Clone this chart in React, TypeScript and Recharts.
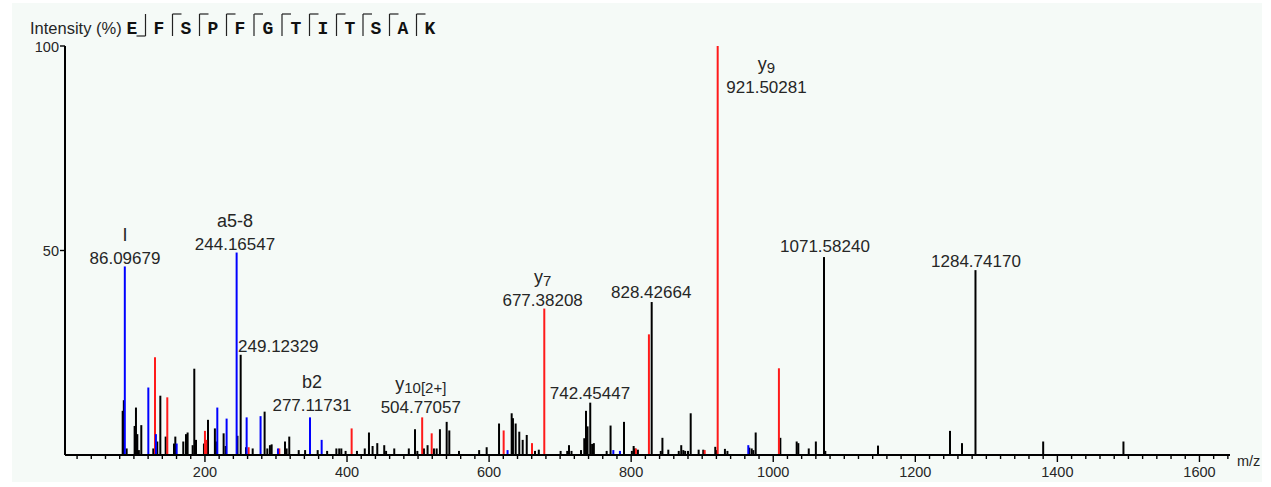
import React from 'react';
import { ComposedChart, XAxis, YAxis, ReferenceLine, Scatter } from 'recharts';

// ---------- data ----------
const xMajorTicks = [200, 400, 600, 800, 1000, 1200, 1400, 1600];
const xMinorStep = 20;
const yTicks = [50, 100];
const sequence = ['E', 'F', 'S', 'P', 'F', 'G', 'T', 'I', 'T', 'S', 'A', 'K'];
// fragment marks between residues: 'b' = bottom hook to the left, 'y' = top hook to the right
const cleavageMarks = ['b', 'y', 'y', 'y', 'y', 'y', 'y', 'y', 'y', 'y', 'y'];

const bluePeaks = [
  { mz: 87.2, int: 46.1 }, { mz: 120.3, int: 16.5 }, { mz: 131, int: 5.1 }, { mz: 160.2, int: 2.8 },
  { mz: 217.4, int: 11.6 }, { mz: 230.5, int: 8.9 }, { mz: 244.6, int: 49.5 }, { mz: 258.7, int: 9.2 },
  { mz: 278.3, int: 9.5 }, { mz: 302.8, int: 1.6 }, { mz: 347.9, int: 9.2 }, { mz: 364.3, int: 3.7 },
  { mz: 626, int: 1.2 }, { mz: 774.9, int: 1.2 }, { mz: 784.2, int: 1.0 }, { mz: 964.9, int: 2.4 },
];

const redPeaks = [
  { mz: 129.7, int: 23.9 }, { mz: 147, int: 14.1 }, { mz: 200, int: 5.9 }, { mz: 201.9, int: 3.7 },
  { mz: 261.5, int: 1.9 }, { mz: 304.7, int: 1.6 }, { mz: 406.5, int: 6.5 }, { mz: 505.8, int: 9.2 },
  { mz: 519.2, int: 5.3 }, { mz: 620.5, int: 6.0 }, { mz: 660.4, int: 2.9 }, { mz: 677.7, int: 35.8 },
  { mz: 806.7, int: 1.6 }, { mz: 825, int: 29.5 }, { mz: 903.5, int: 1.2 }, { mz: 921.8, int: 100 },
  { mz: 1008, int: 21.2 },
];

const blackPeaks = [
  { mz: 84.2, int: 10.8 }, { mz: 85.8, int: 13.4 }, { mz: 89.8, int: 1.6 }, { mz: 101, int: 7.1 },
  { mz: 102.9, int: 11.6 }, { mz: 104.8, int: 5.1 }, { mz: 107, int: 1.2 }, { mz: 110.4, int: 7.3 },
  { mz: 127.3, int: 1.6 }, { mz: 132.9, int: 3.3 }, { mz: 137.2, int: 14.5 }, { mz: 144.7, int: 4.5 },
  { mz: 156.4, int: 2.8 }, { mz: 158.3, int: 4.5 }, { mz: 169.5, int: 3.3 }, { mz: 173.3, int: 5.1 },
  { mz: 175.6, int: 5.5 }, { mz: 182.7, int: 2.4 }, { mz: 185, int: 21.1 }, { mz: 187.4, int: 3.7 },
  { mz: 198.6, int: 2.8 }, { mz: 204.3, int: 8.6 }, { mz: 214, int: 6.5 }, { mz: 216, int: 3.3 },
  { mz: 226.3, int: 5.3 }, { mz: 229.2, int: 2.2 }, { mz: 245.8, int: 4.7 }, { mz: 250.3, int: 24.5 },
  { mz: 257.8, int: 1.9 }, { mz: 267.2, int: 1.6 }, { mz: 284, int: 10.6 }, { mz: 287.8, int: 1.6 },
  { mz: 291.5, int: 2.4 }, { mz: 293.9, int: 2.6 }, { mz: 312.7, int: 3.3 }, { mz: 315, int: 1.6 },
  { mz: 318.7, int: 4.5 }, { mz: 332, int: 1.2 }, { mz: 341, int: 1.2 }, { mz: 358.7, int: 1.2 },
  { mz: 372, int: 1.0 }, { mz: 385, int: 1.6 }, { mz: 389, int: 1.6 }, { mz: 392, int: 1.6 },
  { mz: 398, int: 1.0 }, { mz: 414, int: 1.0 }, { mz: 425, int: 1.6 }, { mz: 430.9, int: 5.5 },
  { mz: 436, int: 2.2 }, { mz: 442.6, int: 2.9 }, { mz: 452.4, int: 2.4 }, { mz: 455, int: 1.0 },
  { mz: 466.5, int: 1.6 }, { mz: 487, int: 1.6 }, { mz: 495.7, int: 6.3 }, { mz: 499, int: 1.0 },
  { mz: 508.3, int: 1.6 }, { mz: 513.4, int: 2.4 }, { mz: 522.4, int: 1.6 }, { mz: 526.2, int: 1.6 },
  { mz: 530.8, int: 6.3 }, { mz: 540.3, int: 8.1 }, { mz: 544, int: 6.0 }, { mz: 557.6, int: 1.0 },
  { mz: 586, int: 1.2 }, { mz: 596.6, int: 1.9 }, { mz: 614, int: 7.7 }, { mz: 631.8, int: 10.2 },
  { mz: 633.6, int: 9.0 }, { mz: 637.4, int: 7.7 }, { mz: 642.5, int: 5.7 }, { mz: 647.3, int: 3.7 },
  { mz: 653, int: 4.9 }, { mz: 664.6, int: 1.0 }, { mz: 670, int: 1.3 }, { mz: 700.7, int: 1.0 },
  { mz: 710, int: 1.0 }, { mz: 712.5, int: 2.4 }, { mz: 716, int: 1.0 }, { mz: 729.4, int: 1.2 },
  { mz: 734, int: 4.1 }, { mz: 736.4, int: 10.8 }, { mz: 738.6, int: 7.0 }, { mz: 742.4, int: 12.8 },
  { mz: 745, int: 2.7 }, { mz: 747.5, int: 2.9 }, { mz: 765.5, int: 1.0 }, { mz: 771, int: 7.2 },
  { mz: 789.9, int: 8.1 }, { mz: 801, int: 1.0 }, { mz: 803.5, int: 2.2 }, { mz: 805, int: 1.6 },
  { mz: 809.5, int: 1.3 }, { mz: 828.9, int: 37.4 }, { mz: 841.7, int: 1.0 }, { mz: 844, int: 4.2 },
  { mz: 852.3, int: 1.3 }, { mz: 867, int: 1.0 }, { mz: 870.5, int: 2.4 }, { mz: 873.4, int: 1.2 },
  { mz: 876, int: 1.0 }, { mz: 880, int: 1.0 }, { mz: 883.8, int: 10.2 }, { mz: 895, int: 1.3 },
  { mz: 901.5, int: 1.3 }, { mz: 918.4, int: 2.0 }, { mz: 920.4, int: 1.2 }, { mz: 932, int: 1.5 },
  { mz: 935.5, int: 1.0 }, { mz: 966.3, int: 1.8 }, { mz: 969.7, int: 1.6 }, { mz: 972, int: 1.2 },
  { mz: 975.3, int: 5.5 }, { mz: 1010, int: 4.2 }, { mz: 1033, int: 3.3 }, { mz: 1035.3, int: 2.9 },
  { mz: 1050, int: 1.6 }, { mz: 1060, int: 3.3 }, { mz: 1071.5, int: 48.4 }, { mz: 1073.3, int: 1.0 },
  { mz: 1147.5, int: 2.3 }, { mz: 1248.8, int: 5.9 }, { mz: 1265.7, int: 2.9 }, { mz: 1284.7, int: 45.2 },
  { mz: 1380, int: 3.3 }, { mz: 1493, int: 3.3 },
];

// annotation text: mz/at = where the mass label sits (data units)
const peakLabels = [
  { mz: 87.4, at: 46.7, ion: 'I', sub: '', value: '86.09679' },
  { mz: 242.3, at: 50.1, ion: 'a5-8', sub: '', value: '244.16547' },
  { mz: 303.2, at: 25.2, ion: '', sub: '', value: '249.12329' },
  { mz: 350.7, at: 10.8, ion: 'b2', sub: '', value: '277.11731' },
  { mz: 503.9, at: 10.2, ion: 'y', sub: '10[2+]', value: '504.77057' },
  { mz: 675.4, at: 36.4, ion: 'y', sub: '7', value: '677.38208' },
  { mz: 742.0, at: 13.7, ion: '', sub: '', value: '742.45447' },
  { mz: 828.2, at: 38.3, ion: '', sub: '', value: '828.42664' },
  { mz: 990.5, at: 88.5, ion: 'y', sub: '9', value: '921.50281' },
  { mz: 1072.8, at: 49.6, ion: '', sub: '', value: '1071.58240' },
  { mz: 1285.4, at: 46.0, ion: '', sub: '', value: '1284.74170' },
];

// ---------- styling ----------
const FONT = '"Liberation Sans", Arial, sans-serif';
const TEXT = '#262626';
const COLORS = { black: '#000000', red: '#ff1a1a', blue: '#0000ff' };

const xTicks: number[] = [];
for (let v = xMinorStep; v <= 1640; v += xMinorStep) xTicks.push(v);

const XTick = (props: any) => {
  const { x, y, payload } = props;
  const major = xMajorTicks.includes(payload.value);
  return (
    <g>
      <line x1={x} x2={x} y1={y} y2={y + (major ? 7 : 4)} stroke="#000" strokeWidth={1.4} />
      {major && (
        <text x={x} y={y + 22} textAnchor="middle" fontSize={14.5} fontFamily={FONT} fill={TEXT}>
          {payload.value}
        </text>
      )}
    </g>
  );
};

const YTick = (props: any) => {
  const { x, y, payload } = props;
  return (
    <g>
      <line x1={x - 5} x2={x} y1={y} y2={y} stroke="#000" strokeWidth={1.4} />
      <text x={x - 6} y={y + 5.5} textAnchor="end" fontSize={14.5} fontFamily={FONT} fill={TEXT}>
        {payload.value}
      </text>
    </g>
  );
};

const LabelShape = (p: any) => {
  const { cx, cy, payload } = p;
  if (cx == null || cy == null) return null;
  return (
    <g>
      {payload.ion && (
        <text x={cx} y={cy - 23} textAnchor="middle" fontFamily={FONT} fill={TEXT}>
          <tspan fontSize={18}>{payload.ion}</tspan>
          {payload.sub && (
            <tspan fontSize={15} dy={3}>
              {payload.sub}
            </tspan>
          )}
        </text>
      )}
      <text x={cx} y={cy} textAnchor="middle" fontSize={17} fontFamily={FONT} fill={TEXT}>
        {payload.value}
      </text>
    </g>
  );
};

const peakLine = (pk: { mz: number; int: number }, color: string, key: string) => (
  <ReferenceLine
    key={key}
    segment={[{ x: pk.mz, y: 0 }, { x: pk.mz, y: pk.int }]}
    stroke={color}
    strokeWidth={2}
    ifOverflow="visible"
  />
);

const letterX = [132, 159, 186, 213, 240, 268, 296, 323, 350, 376, 403, 430];

export default function App() {
  return (
    <div style={{ position: 'absolute', left: 0, top: 0, width: 1271, height: 487, background: '#ffffff' }}>
      <div style={{ position: 'absolute', left: 12, top: 3, width: 1250, height: 479, background: '#f5faf7' }} />
      <div style={{ position: 'absolute', left: 0, top: 0, width: 1262, height: 487, overflow: 'hidden' }}>
        <ComposedChart
          width={1271}
          height={487}
          data={peakLabels}
          margin={{ top: 46, right: 41, bottom: 2, left: 15 }}
        >
          <XAxis
            dataKey="mz"
            type="number"
            domain={[3, 1643]}
            allowDataOverflow
            ticks={xTicks}
            interval={0}
            tickSize={0}
            tickMargin={0}
            tick={<XTick />}
            height={30}
            axisLine={{ stroke: '#000', strokeWidth: 2 }}
            tickLine={false}
          />
          <YAxis
            dataKey="at"
            type="number"
            domain={[0, 100]}
            allowDataOverflow
            ticks={yTicks}
            interval={0}
            tickSize={0}
            tickMargin={0}
            tick={<YTick />}
            width={50}
            axisLine={{ stroke: '#000', strokeWidth: 2 }}
            tickLine={false}
          />
          {blackPeaks.map((pk, i) => peakLine(pk, COLORS.black, 'k' + i))}
          {redPeaks.map((pk, i) => peakLine(pk, COLORS.red, 'r' + i))}
          {bluePeaks.map((pk, i) => peakLine(pk, COLORS.blue, 'b' + i))}
          <Scatter data={peakLabels} dataKey="at" isAnimationActive={false} shape={<LabelShape />} />
        </ComposedChart>
        <svg
          width={1271}
          height={487}
          style={{ position: 'absolute', left: 0, top: 0, pointerEvents: 'none' }}
        >
          <text x={30} y={34} fontSize={16.5} fontFamily={FONT} fill={TEXT}>
            Intensity (%)
          </text>
          {sequence.map((aa, i) => (
            <text
              key={'aa' + i}
              x={letterX[i]}
              y={34}
              textAnchor="middle"
              fontSize={18}
              fontWeight="bold"
              fontFamily='"Liberation Mono", "Courier New", monospace'
              fill="#111"
            >
              {aa}
            </text>
          ))}
          {cleavageMarks.map((m, i) => {
            const sx = (letterX[i] + letterX[i + 1]) / 2;
            return (
              <g key={'cm' + i} stroke="#222" strokeWidth={1.2} fill="none">
                <line x1={sx} x2={sx} y1={14} y2={36} />
                {m === 'b' ? (
                  <line x1={sx - 9} x2={sx} y1={36} y2={36} />
                ) : (
                  <line x1={sx} x2={sx + 9} y1={14} y2={14} />
                )}
              </g>
            );
          })}
          <text x={1237} y={466} fontSize={14.5} fontFamily={FONT} fill={TEXT}>
            m/z
          </text>
        </svg>
      </div>
    </div>
  );
}
